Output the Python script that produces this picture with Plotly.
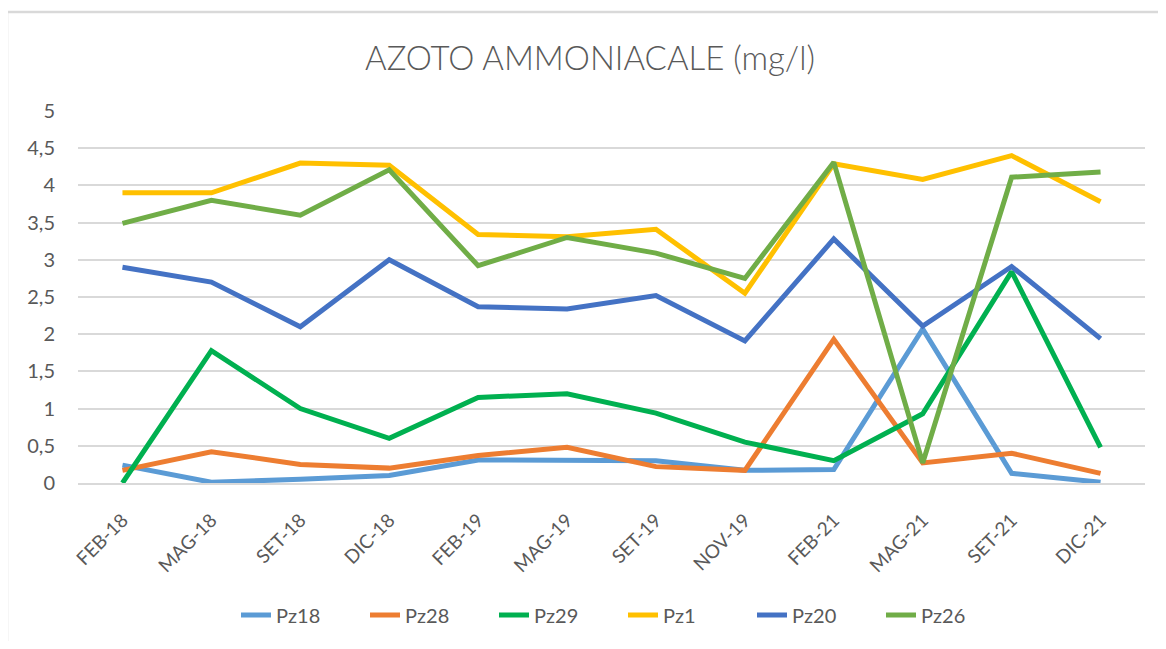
import plotly.graph_objects as go

categories = ["FEB-18", "MAG-18", "SET-18", "DIC-18", "FEB-19", "MAG-19",
              "SET-19", "NOV-19", "FEB-21", "MAG-21", "SET-21", "DIC-21"]

pz18 = [0.24, 0.01, 0.05, 0.10, 0.31, 0.30, 0.30, 0.17, 0.18, 2.07, 0.13, 0.01]
pz28 = [0.17, 0.42, 0.25, 0.20, 0.37, 0.48, 0.22, 0.17, 1.93, 0.27, 0.40, 0.13]
pz29 = [0.00, 1.78, 1.00, 0.60, 1.15, 1.20, 0.94, 0.55, 0.30, 0.93, 2.84, 0.48]
pz1 = [3.90, 3.90, 4.30, 4.27, 3.34, 3.31, 3.41, 2.55, 4.29, 4.08, 4.40, 3.78]
pz20 = [2.90, 2.70, 2.10, 3.00, 2.37, 2.34, 2.52, 1.91, 3.28, 2.11, 2.91, 1.94]
pz26 = [3.49, 3.80, 3.60, 4.21, 2.92, 3.30, 3.09, 2.75, 4.31, 0.27, 4.11, 4.18]

series_names = ["Pz18", "Pz28", "Pz29", "Pz1", "Pz20", "Pz26"]
series_values = [pz18, pz28, pz29, pz1, pz20, pz26]
series_colors = ["#5B9BD5", "#ED7D31", "#00B050", "#FFC000", "#4472C4", "#70AD47"]

y_tickvals = [0, 0.5, 1, 1.5, 2, 2.5, 3, 3.5, 4, 4.5, 5]
y_ticktext = ["0", "0,5", "1", "1,5", "2", "2,5", "3", "3,5", "4", "4,5", "5"]

title_text = "AZOTO AMMONIACALE (mg/l)"

FONT = "Lato"
GREY = "#595959"
GRID = "#D9D9D9"

fig = go.Figure()
for name, vals, col in zip(series_names, series_values, series_colors):
    fig.add_trace(go.Scatter(
        x=categories, y=vals, name=name, mode="lines",
        line=dict(color=col, width=5),
        cliponaxis=False,
    ))

# page body has an 8px margin: work in window pixels, convert to figure pixels
OFF = 8
W, H = 1150, 633
L = 78 - OFF
R = W - (1145 - OFF)
T = 111 - OFF
B = H - (483 - OFF)
pw = W - L - R
ph = H - T - B

def px_x(px):
    return (px - OFF - L) / pw

def px_y(py):
    return (H - B - (py - OFF)) / ph

fig.update_layout(
    width=W, height=H,
    margin=dict(l=L, r=R, t=T, b=B, autoexpand=False),
    paper_bgcolor="white", plot_bgcolor="white",
    title=dict(text=title_text, x=(590 - OFF) / W, xanchor="center",
               y=1 - (58 - OFF) / H, yanchor="middle",
               font=dict(family=FONT, size=33, color=GREY, weight=300)),
    font=dict(family=FONT, color=GREY),
    showlegend=True,
    legend=dict(orientation="h",
                xref="container", yref="container",
                x=(236 - OFF) / W, xanchor="left",
                y=1 - (615 - OFF) / H, yanchor="middle",
                font=dict(family=FONT, size=20, color=GREY),
                entrywidth=84, entrywidthmode="pixels",
                tracegroupgap=0),
    xaxis=dict(
        type="category", range=[-0.5, 11.5], automargin=False,
        tickangle=-45, tickfont=dict(family=FONT, size=19, color=GREY),
        showgrid=False, showline=True, linecolor=GRID, linewidth=1.5,
        ticks="", fixedrange=True, ticklabelstandoff=17,
    ),
    yaxis=dict(
        range=[0, 5], tickvals=y_tickvals, ticktext=y_ticktext,
        automargin=False,
        tickfont=dict(family=FONT, size=20, color=GREY),
        showgrid=True, gridcolor=GRID, gridwidth=1.5,
        zeroline=False, showline=False, ticks="",
        ticklabelstandoff=22,
    ),
    shapes=[
        dict(type="line", xref="paper", yref="paper",
             x0=px_x(7), x1=px_x(1166 + 5), y0=px_y(12), y1=px_y(12),
             line=dict(color=GRID, width=2.5)),
        dict(type="line", xref="paper", yref="paper",
             x0=px_x(7), x1=px_x(7), y0=px_y(12), y1=px_y(649 + 5),
             line=dict(color=GRID, width=2.5)),
    ],
)

fig.write_html("out.html")
